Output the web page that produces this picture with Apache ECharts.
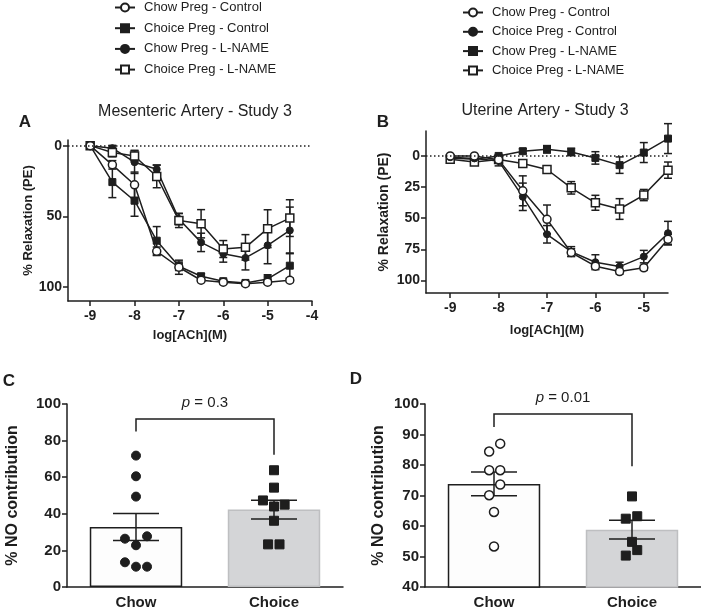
<!DOCTYPE html>
<html><head><meta charset="utf-8">
<script src="https://cdn.jsdelivr.net/npm/echarts@6/dist/echarts.min.js"></script>
<style>html,body{margin:0;padding:0;background:#fff}#c{width:701px;height:614px}</style>
</head><body><div id="c"></div>
<script>
// ---------- DATA ----------
const logConc = [-9, -8.5, -8, -7.5, -7, -6.5, -6, -5.5, -5, -4.5];
const xTicksA = [-9, -8, -7, -6, -5, -4];
const xTicksB = [-9, -8, -7, -6, -5];
const yTicksA = [0, 50, 100];
const yTicksB = [0, 25, 50, 75, 100];

const seriesNames = ['Chow Preg - Control', 'Choice Preg - Control', 'Chow Preg - L-NAME', 'Choice Preg - L-NAME'];

// Panel A: Mesenteric artery
const mesChowCtrl     = [0, 13.6, 27.7, 74.8, 86.1, 95.3, 96.7, 97.7, 96.7, 95.3];
const mesChowCtrlSem  = [0, 3, 9, 3, 5, 1.5, 1, 1, 1.5, 1.5];
const mesChoiceCtrl   = [0, 25.8, 39, 67.3, 85.4, 92.5, 96, 97.2, 94.4, 85];
const mesChoiceCtrlSem= [0, 11, 11, 10, 3, 2, 1, 1, 3, 9];
const mesChowLN       = [0, 1.8, 11.7, 16.7, 52, 68.5, 76.5, 79.5, 70.6, 60];
const mesChowLNSem    = [0, 2, 8, 3, 4, 6.5, 6, 8.5, 13, 16.5];
const mesChoiceLN     = [0, 4.9, 7.3, 21.8, 53, 55.3, 73.2, 72, 58.8, 51.3];
const mesChoiceLNSem  = [0, 3, 4, 8, 5, 10, 6, 9, 13.4, 13];

// Panel B: Uterine artery
const utChowCtrl      = [0, 0, 3, 28, 50.9, 77.5, 88.5, 92.8, 89.8, 66.9];
const utChowCtrlSem   = [1, 1, 2, 12, 11.5, 3, 2, 2, 2, 4];
const utChoiceCtrl    = [1, 2, 4, 32.8, 62.9, 76.8, 85.3, 88.8, 80.8, 62];
const utChoiceCtrlSem = [1, 1, 4, 11, 7, 4, 6, 3.5, 5, 9.5];
const utChowLN        = [1.6, 2.7, 0, -3.8, -5.3, -3.2, 1.6, 7.4, -2.7, -13.9];
const utChowLNSem     = [1, 1, 1, 2, 3, 3, 5, 6.6, 8, 12];
const utChoiceLN      = [2.6, 4.8, 2.9, 6.1, 10.9, 25.6, 37.6, 42.6, 31.4, 11.4];
const utChoiceLNSem   = [1, 1, 3, 2, 3, 5, 6, 8.3, 4.5, 6.5];

// Panel C
const groups = ['Chow', 'Choice'];
const cMeans = [32.8, 42.3];
const cSem = [7.4, 5.1];
const cChowPts = [71.8, 60.5, 49.4, 27.7, 26.4, 22.8, 13.5, 11.1, 11.1];
const cChowJit = [0, 0, 0, 0.08, -0.08, 0, -0.08, 0, 0.08];
const cChoicePts = [63.8, 54.3, 47.3, 45, 44, 36.2, 23.3, 23.3];
const cChoiceJit = [0, 0, -0.08, 0.077, 0, 0, -0.043, 0.04];
const cBracket = [85, 91.8, 72.3];   // left leg end, top, right leg end
const cP = '0.3';

// Panel D
const dMeans = [73.8, 58.8];
const dSem = [3.9, 3.1];
const dChowPts = [87, 84.4, 78.3, 78.3, 73.6, 70.1, 64.6, 53.3];
const dChowJit = [0.045, -0.035, -0.035, 0.045, 0.045, -0.035, 0, 0];
const dChoicePts = [69.7, 62.4, 63.2, 54.8, 52.1, 50.3];
const dChoiceJit = [0, -0.045, 0.038, 0, 0.038, -0.045];
const dBracket = [92.5, 96.7, 79.6];
const dP = '0.01';

// ---------- STYLE ----------
const FONT = '"Liberation Sans", Arial, Helvetica, sans-serif';
const INK = '#1e1e1e';
const ZW = '\u200b'; // distinguishes panel-B series names for its own legend

function errRender(capHalf) {
  return function (params, api) {
    const x = api.value(0), y = api.value(1), e = api.value(2);
    if (!(e > 0)) return null;
    const p1 = api.coord([x, y - e]), p2 = api.coord([x, y + e]);
    const st = { stroke: INK, lineWidth: 1.5 };
    return { type: 'group', children: [
      { type: 'line', shape: { x1: p1[0], y1: p1[1], x2: p2[0], y2: p2[1] }, style: st },
      { type: 'line', shape: { x1: p1[0] - capHalf, y1: p1[1], x2: p1[0] + capHalf, y2: p1[1] }, style: st },
      { type: 'line', shape: { x1: p2[0] - capHalf, y1: p2[1], x2: p2[0] + capHalf, y2: p2[1] }, style: st }
    ]};
  };
}

const kinds = {
  openCircle: { symbol: 'circle', symbolSize: 8, itemStyle: { color: '#fff', borderColor: INK, borderWidth: 1.5, opacity: 1 } },
  fillCircle: { symbol: 'circle', symbolSize: 7, itemStyle: { color: INK, borderColor: INK, borderWidth: 1, opacity: 1 } },
  openSquare: { symbol: 'rect', symbolSize: 8, itemStyle: { color: '#fff', borderColor: INK, borderWidth: 1.5, opacity: 1 } },
  fillSquare: { symbol: 'rect', symbolSize: 7, itemStyle: { color: INK, borderColor: INK, borderWidth: 1, opacity: 1 } }
};

function curve(name, vals, sem, kind, gi) {
  const k = kinds[kind];
  return [
    { type: 'custom', xAxisIndex: gi, yAxisIndex: gi, z: 1, silent: true,
      renderItem: errRender(4), encode: { x: 0, y: 1 },
      data: logConc.map((x, i) => [x, vals[i], sem[i]]) },
    { type: 'line', name: name, xAxisIndex: gi, yAxisIndex: gi, z: 3,
      symbol: k.symbol, symbolSize: k.symbolSize, showSymbol: true,
      itemStyle: k.itemStyle, lineStyle: { color: INK, width: 1.5 },
      data: logConc.map((x, i) => [x, vals[i]]) }
  ];
}

function zeroLine(gi) {
  return { type: 'line', xAxisIndex: gi, yAxisIndex: gi, data: [], z: 0, silent: true,
    markLine: { silent: true, symbol: 'none', label: { show: false },
      lineStyle: { type: [1.5, 2.5], color: INK, width: 1.5 }, data: [{ yAxis: 0 }] } };
}

function bracket(xi, yi, b, pText) {
  return { type: 'custom', xAxisIndex: xi, yAxisIndex: yi, z: 5, silent: true,
    encode: { x: [0, 2], y: [1, 3, 4] },
    data: [[0, b[0], 1, b[2], b[1]]],
    renderItem: function (params, api) {
      const a = api.coord([api.value(0), api.value(1)]);
      const t1 = api.coord([api.value(0), api.value(4)]);
      const t2 = api.coord([api.value(2), api.value(4)]);
      const c = api.coord([api.value(2), api.value(3)]);
      return { type: 'group', children: [
        { type: 'polyline', shape: { points: [a, t1, t2, c] }, style: { stroke: INK, lineWidth: 1.5, fill: null } },
        { type: 'text', x: (t1[0] + t2[0]) / 2, y: t1[1] - 16,
          style: { text: '{i|p} = ' + pText, align: 'center', verticalAlign: 'middle',
            fontSize: 15, fontFamily: FONT, fill: INK,
            rich: { i: { fontStyle: 'italic', fontSize: 15, fontFamily: FONT, fill: INK } } } }
      ]};
    } };
}

const axLine = { show: true, onZero: false, lineStyle: { color: INK, width: 1.5 } };
const tickSt = { lineStyle: { color: INK, width: 1.5 }, length: 5 };

function curveXAxis(gi, max, ticks, gap) {
  return { type: 'value', gridIndex: gi, min: -9.5, max: max,
    axisLine: axLine, splitLine: { show: false },
    axisTick: Object.assign({ customValues: ticks }, tickSt),
    axisLabel: { customValues: ticks, fontSize: 14, fontWeight: 'bold', color: INK, fontFamily: FONT, margin: 8 },
    name: 'log[ACh](M)', nameLocation: 'middle', nameGap: gap,
    nameTextStyle: { fontSize: 13, fontWeight: 'bold', color: INK, fontFamily: FONT } };
}
function curveYAxis(gi, min, ticks, gap, nameSize) {
  return { type: 'value', gridIndex: gi, inverse: true, min: min, max: 110,
    axisLine: axLine, splitLine: { show: false },
    axisTick: Object.assign({ show: true, customValues: ticks }, tickSt),
    axisLabel: { customValues: ticks, fontSize: 14, fontWeight: 'bold', color: INK, fontFamily: FONT, margin: 6 },
    name: '% Relaxation (PE)', nameLocation: 'middle', nameGap: gap,
    nameTextStyle: { fontSize: nameSize, fontWeight: 'bold', color: INK, fontFamily: FONT } };
}
function catXAxis(gi) {
  return { type: 'category', gridIndex: gi, data: groups, boundaryGap: true,
    axisLine: axLine, axisTick: Object.assign({ alignWithLabel: true }, tickSt),
    axisLabel: { fontSize: 15, fontWeight: 'bold', color: INK, fontFamily: FONT, margin: 8 } };
}
function hiddenX(gi) {
  return { type: 'value', gridIndex: gi, min: -0.5, max: 1.5, show: false };
}
function barYAxis(gi, min, interval, gap) {
  return { type: 'value', gridIndex: gi, min: min, max: 100, interval: interval,
    axisLine: axLine, splitLine: { show: false },
    axisTick: Object.assign({ show: true }, tickSt),
    axisLabel: { fontSize: 15, fontWeight: 'bold', color: INK, fontFamily: FONT, margin: 6 },
    name: '% NO contribution', nameLocation: 'middle', nameGap: gap,
    nameTextStyle: { fontSize: 16, fontWeight: 'bold', color: INK, fontFamily: FONT } };
}
function barSeries(xi, yi, means) {
  const styles = [
    { color: '#fdfdfd', borderColor: INK, borderWidth: 1.5 },
    { color: '#d4d5d7', borderColor: '#bebfc1', borderWidth: 1.5 }
  ];
  return { type: 'bar', xAxisIndex: xi, yAxisIndex: yi, barWidth: '67%', z: 1, silent: true,
    data: means.map((v, i) => ({ value: v, itemStyle: styles[i] })) };
}
function barErr(xi, yi, means, sem) {
  return { type: 'custom', xAxisIndex: xi, yAxisIndex: yi, z: 2, silent: true,
    renderItem: errRender(23), encode: { x: 0, y: 1 },
    data: means.map((v, i) => [i, v, sem[i]]) };
}
function dots(xi, yi, pos, pts, jit, kind) {
  const k = kinds[kind];
  return { type: 'scatter', xAxisIndex: xi, yAxisIndex: yi, z: 3, silent: true,
    symbol: k.symbol, symbolSize: 9, itemStyle: k.itemStyle,
    data: pts.map((v, i) => [pos + jit[i], v]) };
}

const legendText = { fontSize: 13, fontFamily: FONT, color: INK, padding: [0, 0, 0, 4] };

const option = {
  animation: false,
  backgroundColor: '#fff',
  textStyle: { fontFamily: FONT },
  legend: [
    { data: seriesNames, orient: 'vertical', left: 114, top: 1, padding: 0, itemWidth: 20, itemHeight: 10,
      itemGap: 7.7, selectedMode: false, textStyle: legendText },
    { data: seriesNames.map(n => n + ZW), orient: 'vertical', left: 462, top: 6, padding: 0, itemWidth: 20, itemHeight: 10,
      itemGap: 6.3, selectedMode: false, textStyle: legendText, formatter: n => n.replace(ZW, '') }
  ],
  grid: [
    { left: 68, top: 140, width: 244, height: 161 },
    { left: 426, top: 131, width: 242, height: 162 },
    { left: 67, top: 404, width: 276, height: 183 },
    { left: 425, top: 404, width: 276, height: 183 }
  ],
  xAxis: [
    curveXAxis(0, -4, xTicksA, 28),
    curveXAxis(1, -4.5, xTicksB, 31),
    catXAxis(2), hiddenX(2),
    catXAxis(3), hiddenX(3)
  ],
  yAxis: [
    curveYAxis(0, -4, yTicksA, 30, 13),
    curveYAxis(1, -20, yTicksB, 35, 14),
    barYAxis(2, 0, 20, 46),
    barYAxis(3, 40, 10, 38)
  ],
  graphic: [
    { type: 'text', x: 195, y: 112, style: { text: 'Mesenteric Artery - Study 3', fontSize: 16, fontFamily: FONT, fill: '#222', align: 'center', verticalAlign: 'middle' } },
    { type: 'text', x: 545, y: 111, style: { text: 'Uterine Artery - Study 3', fontSize: 16, fontFamily: FONT, fill: '#222', align: 'center', verticalAlign: 'middle' } },
    { type: 'text', x: 25, y: 122, style: { text: 'A', fontSize: 17, fontWeight: 'bold', fontFamily: FONT, fill: INK, align: 'center', verticalAlign: 'middle' } },
    { type: 'text', x: 383, y: 122, style: { text: 'B', fontSize: 17, fontWeight: 'bold', fontFamily: FONT, fill: INK, align: 'center', verticalAlign: 'middle' } },
    { type: 'text', x: 9, y: 381, style: { text: 'C', fontSize: 17, fontWeight: 'bold', fontFamily: FONT, fill: INK, align: 'center', verticalAlign: 'middle' } },
    { type: 'text', x: 356, y: 379, style: { text: 'D', fontSize: 17, fontWeight: 'bold', fontFamily: FONT, fill: INK, align: 'center', verticalAlign: 'middle' } }
  ],
  series: [].concat(
    [zeroLine(0), zeroLine(1)],
    curve(seriesNames[2], mesChowLN, mesChowLNSem, 'fillCircle', 0),
    curve(seriesNames[3], mesChoiceLN, mesChoiceLNSem, 'openSquare', 0),
    curve(seriesNames[1], mesChoiceCtrl, mesChoiceCtrlSem, 'fillSquare', 0),
    curve(seriesNames[0], mesChowCtrl, mesChowCtrlSem, 'openCircle', 0),
    curve(seriesNames[2] + ZW, utChowLN, utChowLNSem, 'fillSquare', 1),
    curve(seriesNames[3] + ZW, utChoiceLN, utChoiceLNSem, 'openSquare', 1),
    curve(seriesNames[1] + ZW, utChoiceCtrl, utChoiceCtrlSem, 'fillCircle', 1),
    curve(seriesNames[0] + ZW, utChowCtrl, utChowCtrlSem, 'openCircle', 1),
    [
      barSeries(2, 2, cMeans), barErr(3, 2, cMeans, cSem),
      dots(3, 2, 0, cChowPts, cChowJit, 'fillCircle'),
      dots(3, 2, 1, cChoicePts, cChoiceJit, 'fillSquare'),
      bracket(3, 2, cBracket, cP),
      barSeries(4, 3, dMeans), barErr(5, 3, dMeans, dSem),
      dots(5, 3, 0, dChowPts, dChowJit, 'openCircle'),
      dots(5, 3, 1, dChoicePts, dChoiceJit, 'fillSquare'),
      bracket(5, 3, dBracket, dP)
    ]
  )
};

const chart = echarts.init(document.getElementById('c'), null, { renderer: 'canvas' });
chart.setOption(option);
</script>
</body></html>
